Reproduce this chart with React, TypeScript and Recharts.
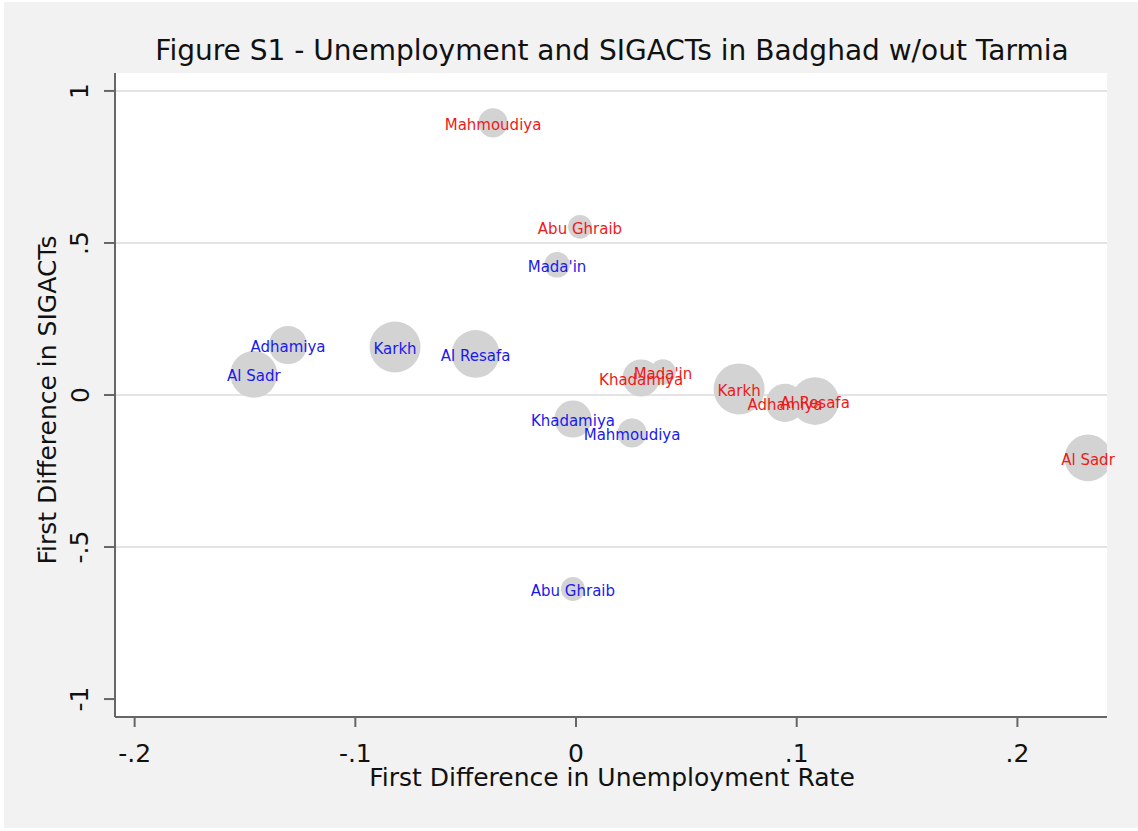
import React from "react";
import {
  ScatterChart,
  Scatter,
  XAxis,
  YAxis,
  ZAxis,
  CartesianGrid,
  LabelList,
} from "recharts";

// District weights (marker area proportional to weight)
const districts = ["Al Sadr", "Adhamiya", "Karkh", "Al Resafa", "Khadamiya", "Mahmoudiya", "Abu Ghraib", "Mada'in"];
const weights = [540, 360, 640, 560, 340, 210, 140, 160];

// Blue series (first period)
const blueX = [-0.146, -0.1305, -0.082, -0.0455, -0.0014, 0.0254, -0.0014, -0.0086];
const blueY = [0.068, 0.164, 0.158, 0.135, -0.079, -0.125, -0.638, 0.428];

// Red series (second period)
const redX = [0.232, 0.0947, 0.0739, 0.1083, 0.0295, -0.0376, 0.0018, 0.0394];
const redY = [-0.207, -0.026, 0.02, -0.02, 0.056, 0.895, 0.553, 0.076];

const xTicks = [-0.2, -0.1, 0, 0.1, 0.2];
const xTickLabels = ["-.2", "-.1", "0", ".1", ".2"];
const yTicks = [-1, -0.5, 0, 0.5, 1];
const yTickLabels = ["-1", "-.5", "0", ".5", "1"];
const gridValues = [-0.5, 0, 0.5, 1];

const title = "Figure S1 - Unemployment and SIGACTs in Badghad w/out Tarmia";
const xTitle = "First Difference in Unemployment Rate";
const yTitle = "First Difference in SIGACTs";

const blueData = districts.map((name, i) => ({ name, x: blueX[i], y: blueY[i], w: weights[i] }));
const redData = districts.map((name, i) => ({ name, x: redX[i], y: redY[i], w: weights[i] }));

const FONT = "'DejaVu Sans', Verdana, sans-serif";
const W = 1138;
const H = 831;
const maxW = Math.max(...weights);

const makeLabel = (color: string) => (props: any) => {
  const { x, y, width, height, value } = props;
  const cx = x + (width || 0) / 2;
  const cy = y + (height || 0) / 2;
  return (
    <text
      x={cx}
      y={cy + 2}
      fill={color}
      fontSize={15}
      fontFamily={FONT}
      textAnchor="middle"
      dominantBaseline="central"
    >
      {value}
    </text>
  );
};

const XTick = (props: any) => {
  const { x, y, payload } = props;
  const idx = xTicks.indexOf(payload.value);
  return (
    <text x={x} y={y + 24} fill="#111" fontSize={25} fontFamily={FONT} textAnchor="middle" dominantBaseline="central">
      {idx >= 0 ? xTickLabels[idx] : payload.value}
    </text>
  );
};

const YTick = (props: any) => {
  const { x, y, payload } = props;
  const idx = yTicks.indexOf(payload.value);
  const tx = 80;
  return (
    <text
      x={tx}
      y={y}
      fill="#111"
      fontSize={25}
      fontFamily={FONT}
      textAnchor="middle"
      dominantBaseline="central"
      transform={`rotate(-90, ${tx}, ${y})`}
    >
      {idx >= 0 ? yTickLabels[idx] : payload.value}
    </text>
  );
};

export default function App() {
  return (
    <div style={{ position: "absolute", left: 0, top: 0, width: W, height: H, background: "#ffffff" }}>
      <div style={{ position: "absolute", left: 4, top: 2, width: W - 4, height: H - 5, background: "#f2f2f2" }} />
      <div style={{ position: "absolute", left: 0, top: 0 }}>
        <ScatterChart width={W} height={H} margin={{ top: 73, right: 31, left: 0, bottom: 0 }}>
          <CartesianGrid
            vertical={false}
            horizontalValues={gridValues}
            stroke="#e4e4e4"
            strokeWidth={2}
            fill="#ffffff"
            fillOpacity={1}
          />
          <XAxis
            type="number"
            dataKey="x"
            domain={[-0.2089, 0.2406]}
            ticks={xTicks}
            height={114}
            axisLine={{ stroke: "#666", strokeWidth: 2 }}
            tickLine={{ stroke: "#666", strokeWidth: 2 }}
            tickSize={10}
            tick={<XTick />}
            allowDataOverflow
          />
          <YAxis
            type="number"
            dataKey="y"
            domain={[-1.059, 1.059]}
            ticks={yTicks}
            width={115}
            axisLine={{ stroke: "#666", strokeWidth: 2 }}
            tickLine={{ stroke: "#666", strokeWidth: 2 }}
            tickSize={11}
            tick={<YTick />}
            allowDataOverflow
          />
          <ZAxis type="number" dataKey="w" domain={[0, maxW]} range={[0, Math.PI * 25.5 * 25.5]} />
          <Scatter data={blueData} fill="#d3d3d3" isAnimationActive={false} shape="circle">
            <LabelList dataKey="name" content={makeLabel("#1a1aee")} />
          </Scatter>
          <Scatter data={redData} fill="#d3d3d3" isAnimationActive={false} shape="circle">
            <LabelList dataKey="name" content={makeLabel("#ee1a1a")} />
          </Scatter>
          <text x={612} y={50} fill="#111" fontSize={28} fontFamily={FONT} textAnchor="middle" dominantBaseline="central">
            {title}
          </text>
          <text x={612} y={777} fill="#111" fontSize={25} fontFamily={FONT} textAnchor="middle" dominantBaseline="central">
            {xTitle}
          </text>
          <text
            x={47}
            y={400}
            fill="#111"
            fontSize={25}
            fontFamily={FONT}
            textAnchor="middle"
            dominantBaseline="central"
            transform="rotate(-90, 47, 400)"
          >
            {yTitle}
          </text>
        </ScatterChart>
      </div>
    </div>
  );
}
